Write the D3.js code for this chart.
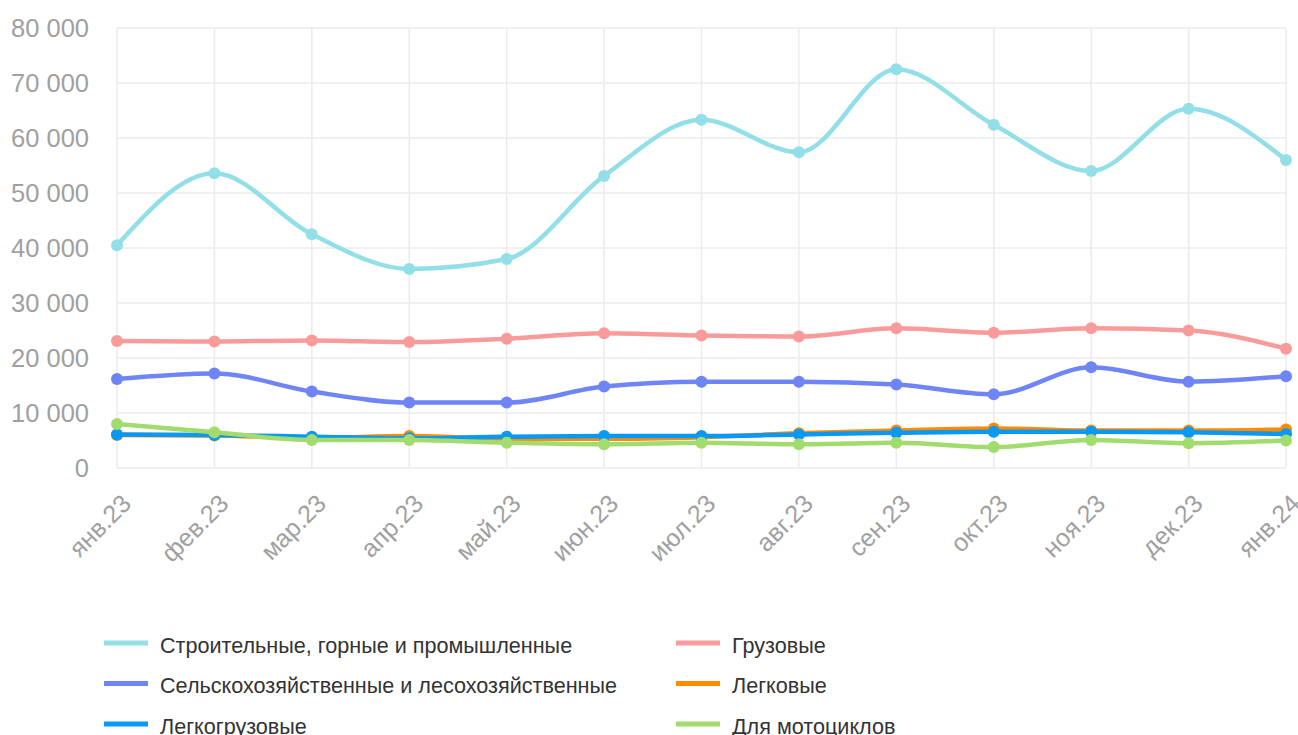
<!DOCTYPE html>
<html>
<head>
<meta charset="utf-8">
<script src="https://cdn.jsdelivr.net/npm/d3@7"></script>
<style>
  body { margin: 0; background: #fff; }
  svg { display: block; font-family: "Liberation Sans", Arial, sans-serif; }
</style>
</head>
<body>
<div id="chart"></div>
<script>
const months = ['янв.23', 'фев.23', 'мар.23', 'апр.23', 'май.23', 'июн.23', 'июл.23',
  'авг.23', 'сен.23', 'окт.23', 'ноя.23', 'дек.23', 'янв.24'];

const construction = [40500, 53600, 42500, 36200, 38000, 53100, 63300, 57400, 72500, 62400, 54000, 65300, 56000];
const trucks = [23100, 23000, 23200, 22900, 23500, 24500, 24100, 23900, 25400, 24600, 25400, 25000, 21700];
const agri = [16200, 17200, 13900, 11900, 11900, 14800, 15700, 15700, 15200, 13400, 18300, 15700, 16700];
const cars = [6000, 5900, 5500, 5800, 5300, 5300, 5600, 6300, 6800, 7200, 6800, 6800, 7000];
const lightTrucks = [6100, 6000, 5700, 5400, 5700, 5800, 5800, 6100, 6400, 6600, 6600, 6500, 6200];
const moto = [8000, 6500, 5100, 5100, 4600, 4300, 4600, 4300, 4600, 3800, 5100, 4500, 5000];

const yTicks = [0, 10000, 20000, 30000, 40000, 50000, 60000, 70000, 80000];

const series = [
  { name: 'Строительные, горные и промышленные', values: construction, color: '#93dfe8' },
  { name: 'Грузовые', values: trucks, color: '#fa9b9b' },
  { name: 'Сельскохозяйственные и лесохозяйственные', values: agri, color: '#6f85f5' },
  { name: 'Легковые', values: cars, color: '#ff8c00' },
  { name: 'Легкогрузовые', values: lightTrucks, color: '#0898f5' },
  { name: 'Для мотоциклов', values: moto, color: '#a3dc6e' }
];

const W = 1298, H = 735;
const plotLeft = 117, plotRight = 1286, plotTop = 28, plotBottom = 468;

const svg = d3.select('#chart').append('svg')
  .attr('width', W)
  .attr('height', H);

const x = d3.scalePoint().domain(months).range([plotLeft, plotRight]);
const y = d3.scaleLinear().domain([0, 80000]).range([plotBottom, plotTop]);

const fmt = v => d3.format(',')(v).replace(/,/g, ' ');

// grid
const grid = svg.append('g');
grid.selectAll('line.v')
  .data(months)
  .join('line')
  .attr('class', 'v')
  .attr('x1', d => x(d)).attr('x2', d => x(d))
  .attr('y1', plotTop).attr('y2', plotBottom)
  .attr('stroke', '#ebebeb').attr('stroke-width', 1.5);
grid.selectAll('line.h')
  .data(yTicks)
  .join('line')
  .attr('class', 'h')
  .attr('x1', plotLeft).attr('x2', plotRight)
  .attr('y1', d => y(d)).attr('y2', d => y(d))
  .attr('stroke', '#ebebeb').attr('stroke-width', 1.5);

// y axis labels
const yAxis = svg.append('g')
  .attr('transform', `translate(${plotLeft}, 0)`)
  .call(d3.axisLeft(y).tickValues(yTicks).tickFormat(fmt).tickSize(0).tickPadding(28));
yAxis.select('.domain').remove();
yAxis.selectAll('text')
  .attr('fill', '#a0a0a0')
  .attr('font-size', 25.5)
  .attr('font-family', '"Liberation Sans", Arial, sans-serif');

// x axis labels
const xAxis = svg.append('g')
  .attr('transform', `translate(0, ${plotBottom})`)
  .call(d3.axisBottom(x).tickSize(0));
xAxis.select('.domain').remove();
xAxis.selectAll('text')
  .attr('fill', '#a0a0a0')
  .attr('font-size', 25)
  .attr('font-family', '"Liberation Sans", Arial, sans-serif')
  .attr('text-anchor', 'end')
  .attr('dy', '0.35em')
  .attr('y', 0)
  .attr('transform', 'translate(9, 31) rotate(-45)');

// lines
const line = d3.line()
  .x((d, i) => x(months[i]))
  .y(d => y(d))
  .curve(d3.curveMonotoneX);

series.forEach(s => {
  const g = svg.append('g');
  g.append('path')
    .datum(s.values)
    .attr('d', line)
    .attr('fill', 'none')
    .attr('stroke', s.color)
    .attr('stroke-width', 4.5);
  g.selectAll('circle')
    .data(s.values)
    .join('circle')
    .attr('cx', (d, i) => x(months[i]))
    .attr('cy', d => y(d))
    .attr('r', 6)
    .attr('fill', s.color);
});

// legend
const legend = svg.append('g');
series.forEach((s, i) => {
  const col = i % 2, row = Math.floor(i / 2);
  const lx = col === 0 ? 104 : 676;
  const ly = 643 + row * 40.5;
  legend.append('rect')
    .attr('x', lx).attr('y', ly - 2.5)
    .attr('width', 44).attr('height', 5)
    .attr('fill', s.color);
  legend.append('text')
    .attr('x', lx + 56).attr('y', ly + 2)
    .attr('dy', '0.35em')
    .attr('font-size', 21.6)
    .attr('fill', '#333')
    .text(s.name);
});
</script>
</body>
</html>
